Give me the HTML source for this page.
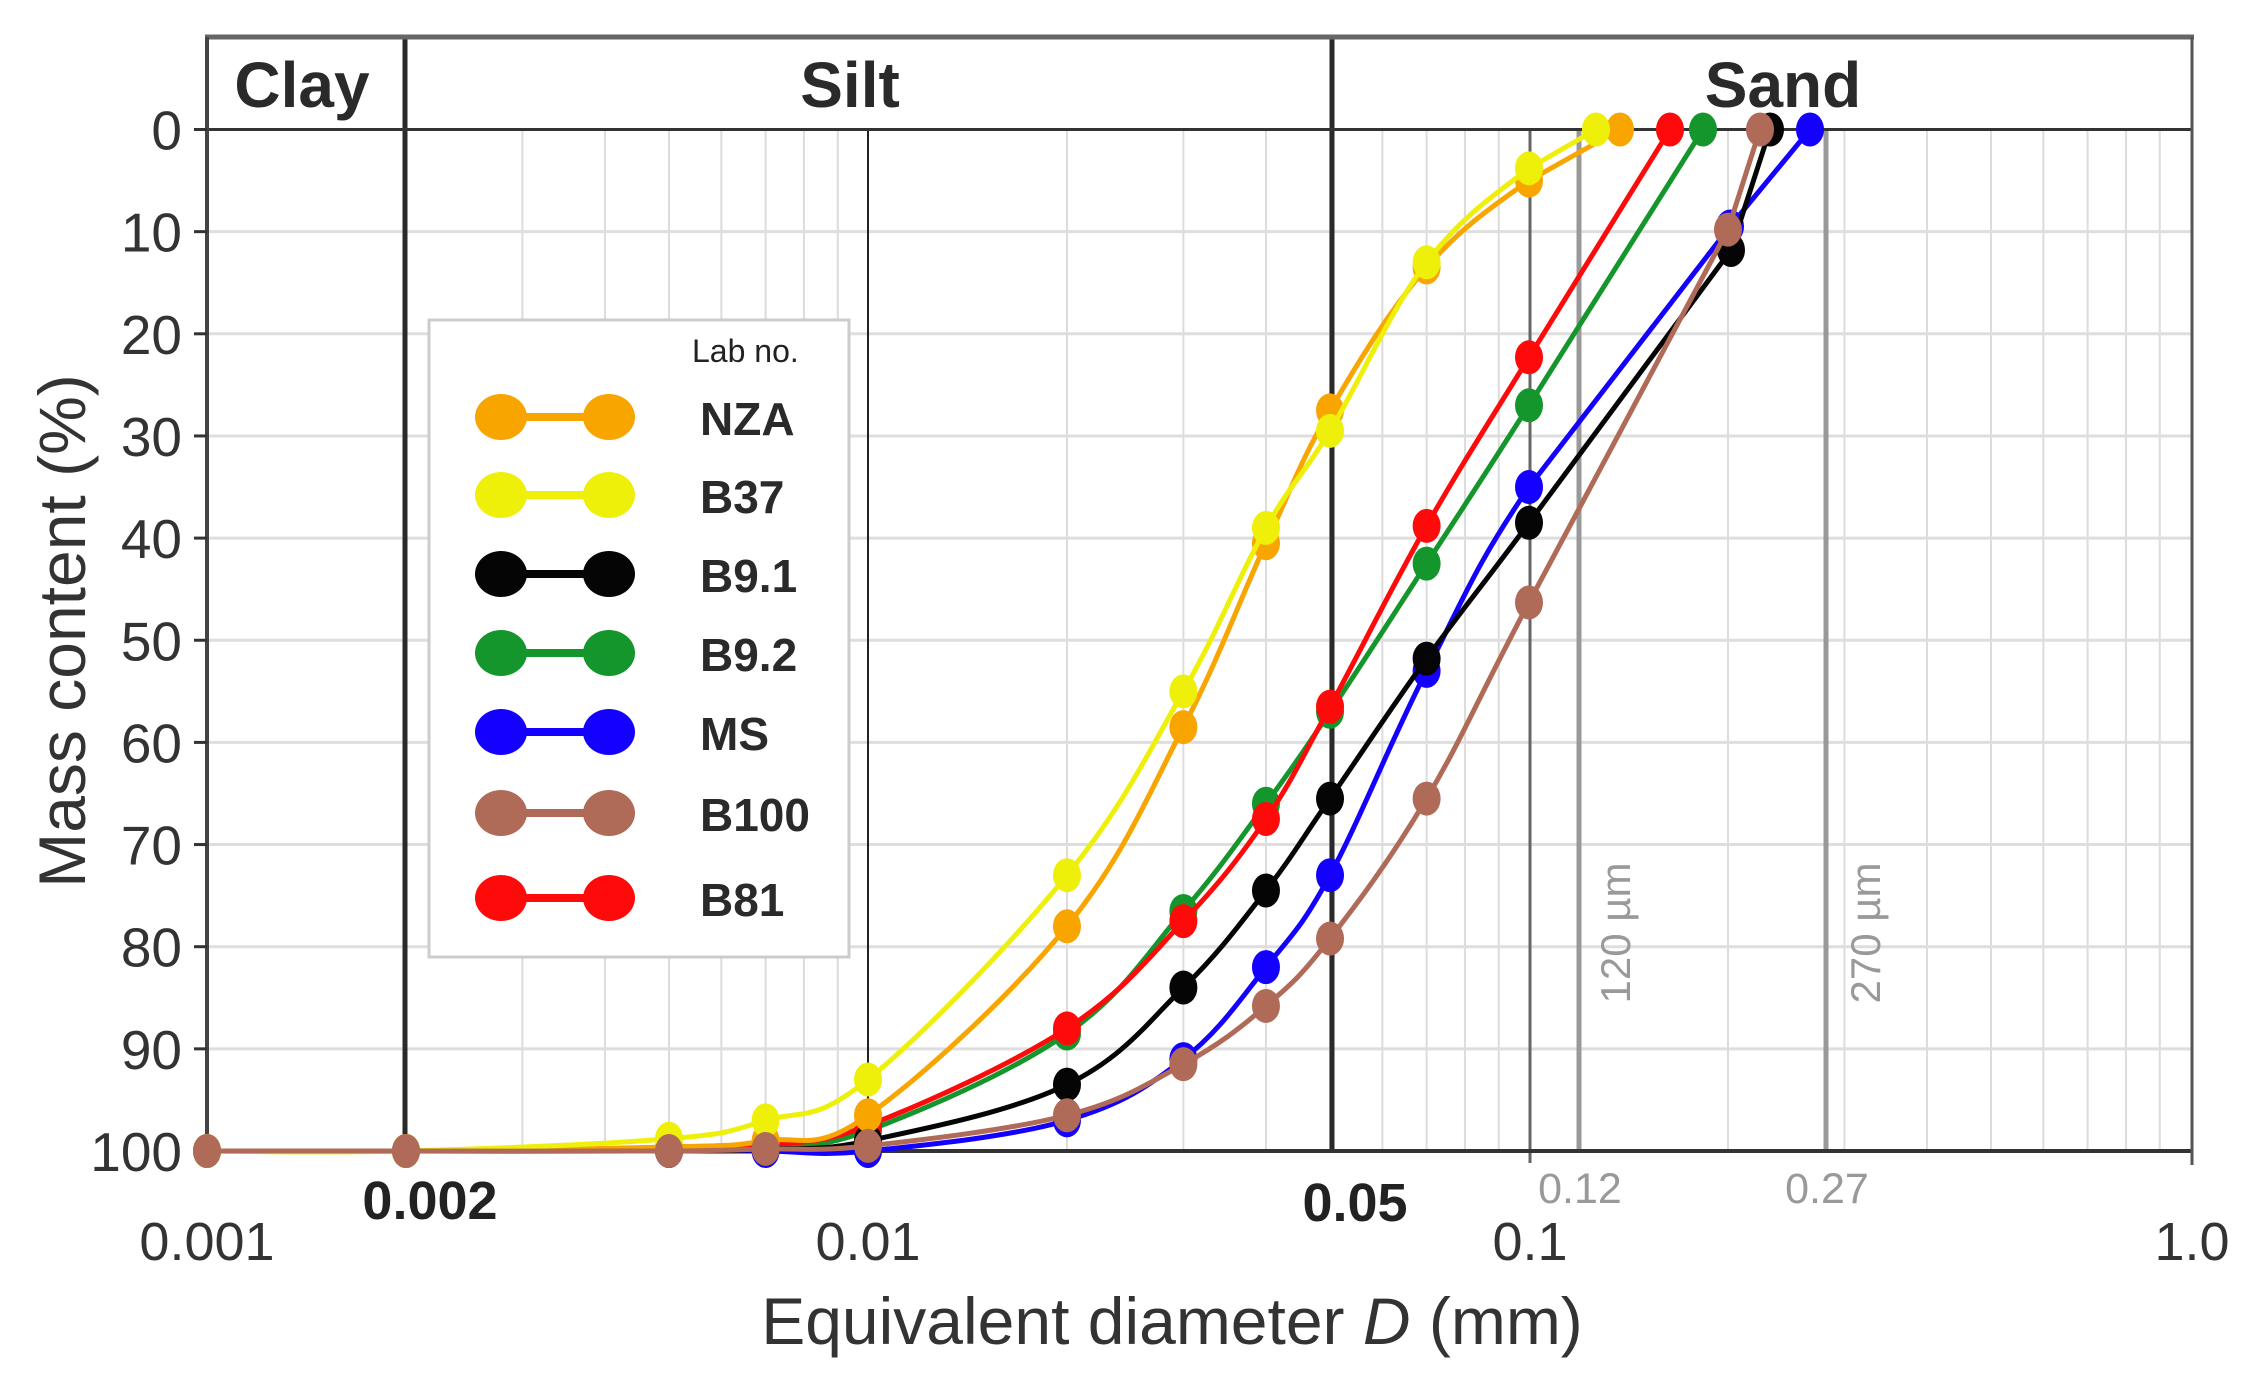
<!DOCTYPE html>
<html><head><meta charset="utf-8"><style>
html,body{margin:0;padding:0;background:#fff;}
svg{display:block;}
text{font-family:"Liberation Sans",Arial,sans-serif;}
</style></head><body>
<svg id="s" width="2258" height="1389" viewBox="0 0 2258 1389" xmlns="http://www.w3.org/2000/svg">
<g id="grid"></g>
<g id="frame"></g>
<g id="series"></g>
<g id="labels" fill="#333">
  <text x="302" y="107" font-size="64" font-weight="bold" text-anchor="middle" fill="#2a2a2a">Clay</text>
  <text x="850" y="107" font-size="64" font-weight="bold" text-anchor="middle" fill="#2a2a2a">Silt</text>
  <text x="1783" y="107" font-size="64" font-weight="bold" text-anchor="middle" fill="#2a2a2a">Sand</text>
  <text x="207" y="1260" font-size="54" text-anchor="middle">0.001</text>
  <text x="868" y="1260" font-size="54" text-anchor="middle">0.01</text>
  <text x="1530" y="1260" font-size="54" text-anchor="middle">0.1</text>
  <text x="2192" y="1260" font-size="54" text-anchor="middle">1.0</text>
  <text x="430" y="1219" font-size="54" font-weight="bold" text-anchor="middle" fill="#222">0.002</text>
  <text x="1355" y="1221" font-size="54" font-weight="bold" text-anchor="middle" fill="#222">0.05</text>
  <text x="1580" y="1203" font-size="43" text-anchor="middle" fill="#999">0.12</text>
  <text x="1827" y="1203" font-size="43" text-anchor="middle" fill="#999">0.27</text>
  <text x="1616" y="933" font-size="42" text-anchor="middle" fill="#999" transform="rotate(-90 1616 933)" dy="14">120 µm</text>
  <text x="1866" y="933" font-size="42" text-anchor="middle" fill="#999" transform="rotate(-90 1866 933)" dy="14">270 µm</text>
  <text x="1172" y="1344" font-size="66" text-anchor="middle">Equivalent diameter <tspan font-style="italic">D</tspan> (mm)</text>
  <text x="85" y="631" font-size="66" text-anchor="middle" transform="rotate(-90 85 631)">Mass content (%)</text>
</g>
<g id="yt" fill="#333"></g>
<g id="legend"></g>
</svg>
<script>
var NS="http://www.w3.org/2000/svg";
function el(p,t,a,txt){var e=document.createElementNS(NS,t);for(var k in a)e.setAttribute(k,a[k]);if(txt!==undefined)e.textContent=txt;document.getElementById(p).appendChild(e);return e;}
var L=207,R=2192,T0=129.5,B=1151,TOP=37;
function X(d){return L+661*(Math.log10(d)+3);}
function Y(p){return T0+(B-T0)*p/100;}
for(var dec=-3;dec<0;dec++){for(var m=2;m<=9;m++){var x=X(m*Math.pow(10,dec));el('grid','line',{x1:x,x2:x,y1:T0,y2:B,stroke:'#dcdcdc','stroke-width':2});}}
for(var p=10;p<100;p+=10){el('grid','line',{x1:L,x2:R,y1:Y(p),y2:Y(p),stroke:'#dedede','stroke-width':3});}
el('frame','line',{x1:868,x2:868,y1:T0,y2:B,stroke:'#222','stroke-width':2});
el('frame','line',{x1:1530,x2:1530,y1:T0,y2:B+12,stroke:'#666','stroke-width':3});
el('frame','line',{x1:1579,x2:1579,y1:T0,y2:B,stroke:'#999','stroke-width':5});
el('frame','line',{x1:1826,x2:1826,y1:T0,y2:B,stroke:'#999','stroke-width':5});
el('frame','line',{x1:405,x2:405,y1:TOP,y2:B,stroke:'#2a2a2a','stroke-width':5});
el('frame','line',{x1:1332,x2:1332,y1:TOP,y2:B,stroke:'#2a2a2a','stroke-width':5});
el('frame','line',{x1:L,x2:R,y1:T0,y2:T0,stroke:'#333','stroke-width':3});
el('frame','line',{x1:L,x2:R,y1:B,y2:B,stroke:'#333','stroke-width':4});
el('frame','line',{x1:L-2,x2:R+2,y1:TOP,y2:TOP,stroke:'#666','stroke-width':5});
el('frame','line',{x1:L,x2:L,y1:TOP,y2:B,stroke:'#444','stroke-width':4});
el('frame','line',{x1:R,x2:R,y1:TOP,y2:B+14,stroke:'#555','stroke-width':3});
for(var p=0;p<=100;p+=10){el('frame','line',{x1:L-13,x2:L,y1:Y(p),y2:Y(p),stroke:'#333','stroke-width':3});
 el('yt','text',{x:182,y:Y(p)+20,'font-size':55,'text-anchor':'end'},String(p));}
var xs=[0.001,0.002,0.005,0.007,0.01,0.02,0.03,0.04,0.05,0.07,0.1];
function mk(vals,extra){var pts=[];for(var i=0;i<xs.length;i++)if(vals[i]!=null)pts.push([X(xs[i]),Y(vals[i])]);extra.forEach(function(e){pts.push([e[0],Y(e[1])]);});return pts;}
var S={
 MS:{c:'#1400ff',p:mk([100,100,100,100,100,97,91,82,73,53,35],[[1730,9.5],[1810,0]])},
 B92:{c:'#15962c',p:mk([100,100,99.8,99.5,98,88.5,76.5,66,57,42.5,27],[[1703,0]])},
 B81:{c:'#ff0a0a',p:mk([100,100,99.8,99.4,97.5,88,77.5,67.5,56.5,38.8,22.3],[[1670,0]])},
 B91:{c:'#050505',p:mk([100,100,100,99.8,99,93.5,84,74.5,65.5,51.8,38.5],[[1731,11.8],[1770,0]])},
 NZA:{c:'#f8a500',p:mk([100,100,99.6,99,96.5,78,58.5,40.5,27.5,13.5,5],[[1620,0]])},
 B37:{c:'#eef00a',p:mk([100,100,98.8,97,93,73,55,39,29.5,13,3.8],[[1596,0]])},
 B100:{c:'#b06a58',p:mk([100,100,100,99.8,99.5,96.5,91.5,85.8,79.2,65.5,46.3],[[1728,9.8],[1760,0]])}
};
function path(pts){var d='M'+pts[0][0]+','+pts[0][1];for(var i=0;i<pts.length-1;i++){var p0=pts[i-1]||pts[i],p1=pts[i],p2=pts[i+1],p3=pts[i+2]||p2;var t=(i>=10)?0:0.18;
 var c1=[p1[0]+(p2[0]-p0[0])*t,p1[1]+(p2[1]-p0[1])*t],c2=[p2[0]-(p3[0]-p1[0])*t,p2[1]-(p3[1]-p1[1])*t];
 d+=' C'+c1[0]+','+c1[1]+' '+c2[0]+','+c2[1]+' '+p2[0]+','+p2[1];}return d;}
['MS','B92','B81','B91','NZA','B37','B100'].forEach(function(k){var s=S[k];
 el('series','path',{d:path(s.p),fill:'none',stroke:s.c,'stroke-width':5});
 s.p.forEach(function(q){el('series','ellipse',{cx:q[0],cy:q[1],rx:14,ry:17,fill:s.c});});});
el('legend','rect',{x:429,y:320,width:420,height:637,fill:'#fff',stroke:'#ccc','stroke-width':3});
el('legend','text',{x:692,y:362,'font-size':32,fill:'#222'},'Lab no.');
var lg=[['NZA','#f8a500',417],['B37','#eef00a',495],['B9.1','#050505',574],['B9.2','#15962c',653],['MS','#1400ff',732],['B100','#b06a58',813],['B81','#ff0a0a',898]];
lg.forEach(function(g){el('legend','line',{x1:501,x2:609,y1:g[2],y2:g[2],stroke:g[1],'stroke-width':8});
 el('legend','ellipse',{cx:501,cy:g[2],rx:26,ry:23,fill:g[1]});el('legend','ellipse',{cx:609,cy:g[2],rx:26,ry:23,fill:g[1]});
 el('legend','text',{x:700,y:g[2]+18,'font-size':46,'font-weight':'bold',fill:'#2a2a2a'},g[0]);});
</script>
</body></html>
